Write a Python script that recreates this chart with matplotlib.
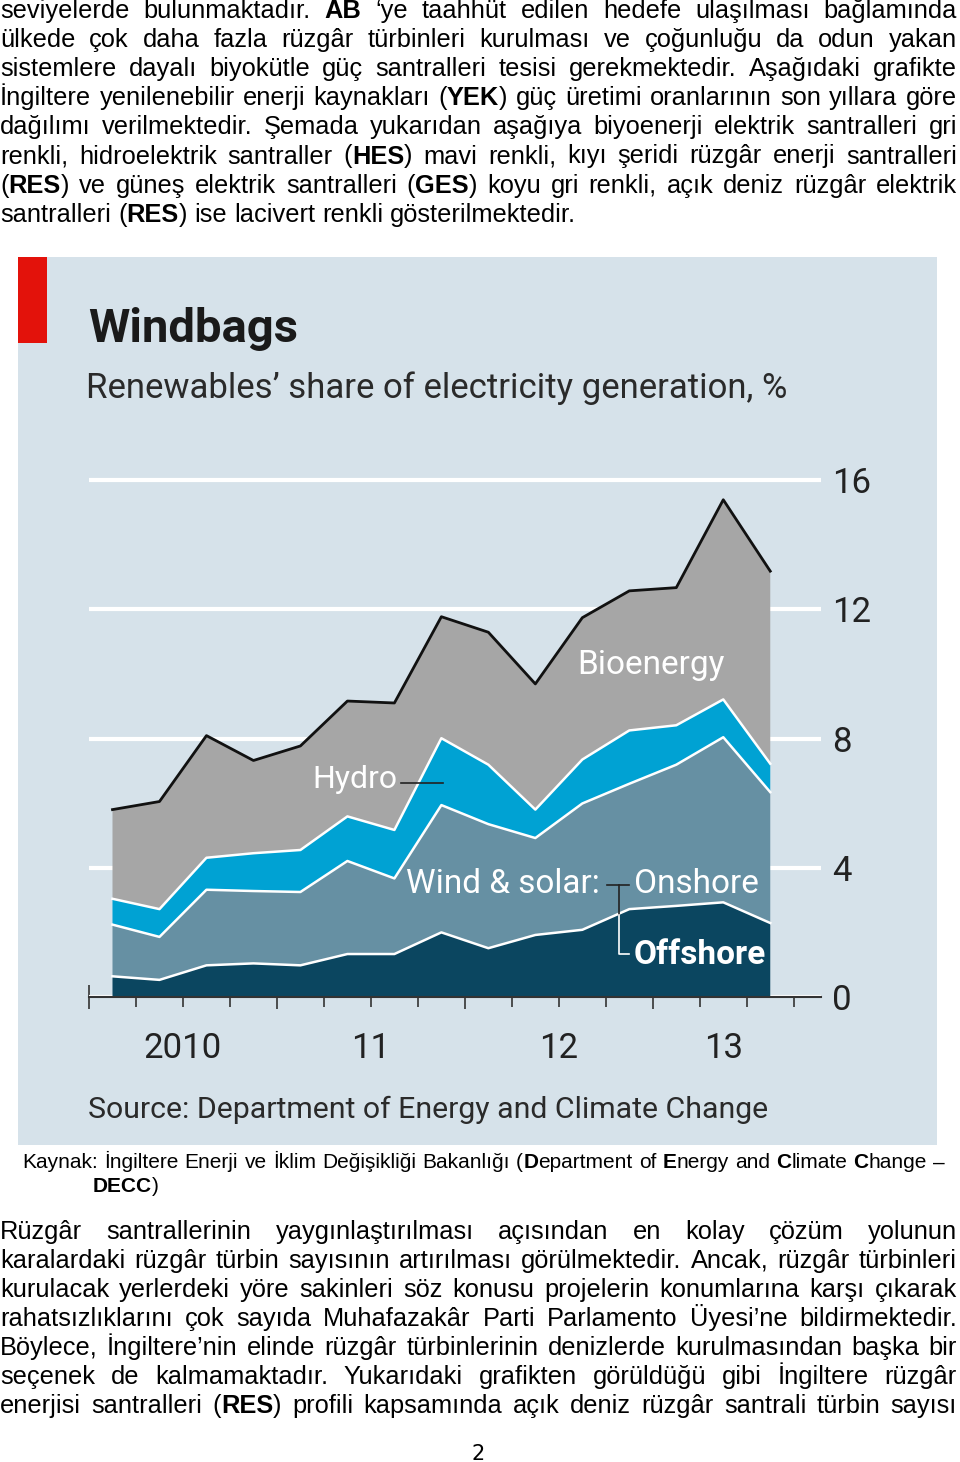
import numpy as np
import matplotlib
matplotlib.use('Agg')
import matplotlib.pyplot as plt
from matplotlib.patches import Rectangle

W, H = 960, 1462

# Datos: participación de renovables (%), trimestral 2010 T1 - 2013 T3
trimestres = np.arange(15)
eolica_marina = [0.64, 0.53, 0.98, 1.04, 0.98, 1.33, 1.33, 2.00, 1.51, 1.92, 2.08, 2.72, 2.82, 2.93, 2.29]
eolica_terrestre = [1.60, 1.33, 2.34, 2.24, 2.27, 2.88, 2.34, 3.94, 3.84, 3.00, 3.91, 3.88, 4.37, 5.11, 4.05]
hidro = [0.80, 0.86, 0.99, 1.17, 1.30, 1.38, 1.50, 2.07, 1.84, 0.88, 1.36, 1.65, 1.22, 1.17, 0.88]
bioenergia = [2.76, 3.33, 3.78, 2.87, 3.22, 3.57, 3.93, 3.76, 4.10, 3.89, 4.39, 4.32, 4.26, 6.18, 5.96]

etiquetas_anio = ['2010', '11', '12', '13']
pos_etiquetas = [1.5, 5.5, 9.5, 13]
yticks = [0, 4, 8, 12, 16]

colores = ['#0b4660', '#6690a3', '#00a2d3', '#a6a6a6']
fondo = '#d6e2ea'
fuente_graf = 'Roboto'

texto_arriba = [
    "seviyelerde bulunmaktadır. *AB* ‘ye taahhüt edilen hedefe ulaşılması bağlamında",
    "ülkede çok daha fazla rüzgâr türbinleri kurulması ve çoğunluğu da odun yakan",
    "sistemlere dayalı biyokütle güç santralleri tesisi gerekmektedir. Aşağıdaki grafikte",
    "İngiltere yenilenebilir enerji kaynakları (*YEK*) güç üretimi oranlarının son yıllara göre",
    "dağılımı verilmektedir. Şemada yukarıdan aşağıya biyoenerji elektrik santralleri gri",
    "renkli, hidroelektrik santraller (*HES*) mavi renkli, kıyı şeridi rüzgâr enerji santralleri",
    "(*RES*) ve güneş elektrik santralleri (*GES*) koyu gri renkli, açık deniz rüzgâr elektrik",
    "santralleri (*RES*) ise lacivert renkli gösterilmektedir.",
]
texto_abajo = [
    "Rüzgâr santrallerinin yaygınlaştırılması açısından en kolay çözüm yolunun",
    "karalardaki rüzgâr türbin sayısının artırılması görülmektedir. Ancak, rüzgâr türbinleri",
    "kurulacak yerlerdeki yöre sakinleri söz konusu projelerin konumlarına karşı çıkarak",
    "rahatsızlıklarını çok sayıda Muhafazakâr Parti Parlamento Üyesi’ne bildirmektedir.",
    "Böylece, İngiltere’nin elinde rüzgâr türbinlerinin denizlerde kurulmasından başka bir",
    "seçenek de kalmamaktadır. Yukarıdaki grafikten görüldüğü gibi İngiltere rüzgâr",
    "enerjisi santralleri (*RES*) profili kapsamında açık deniz rüzgâr santrali türbin sayısı",
]
kaynak = [
    "Kaynak: İngiltere Enerji ve İklim Değişikliği Bakanlığı (*D*epartment of *E*nergy and *C*limate *C*hange –",
    "*DECC*)",
]

fig = plt.figure(figsize=(W / 100, H / 100), dpi=100)
fig.patch.set_facecolor('white')


def px(x, y):
    return x / W, 1 - y / H


def escribir(y, linea, x0, x1, tam, justificar=True, fam='Liberation Sans'):
    r = fig.canvas.get_renderer()
    palabras = []
    for palabra in linea.split():
        trozos = []
        for i, s in enumerate(palabra.split('*')):
            if s:
                t = fig.text(0, 0, s, fontsize=tam, family=fam, va='baseline', ha='left',
                             fontweight='bold' if i % 2 else 'normal')
                trozos.append((t, t.get_window_extent(r).width))
        palabras.append(trozos)
    anchos = [sum(w for _, w in p) for p in palabras]
    if justificar and len(palabras) > 1:
        hueco = (x1 - x0 - sum(anchos)) / (len(palabras) - 1)
    else:
        hueco = tam * 0.278 * 100 / 72
    x = x0
    for p, a in zip(palabras, anchos):
        xx = x
        for t, w in p:
            t.set_position(px(xx, y))
            xx += w
        x += a + hueco


# Texto del documento
for i, l in enumerate(texto_arriba):
    escribir(18 + i * 29.1, l, 0, 957, 18.3, justificar=(i < len(texto_arriba) - 1))
for i, l in enumerate(texto_abajo):
    escribir(1238.7 + i * 29.1, l, 0, 957, 18.3)
escribir(1168.3, kaynak[0], 22, 945, 15)
escribir(1191.7, kaynak[1], 93, 945, 15, justificar=False)
fig.text(*px(478, 1460), '2', fontsize=15, family='Liberation Sans Narrow', ha='center', va='baseline')

# Panel del gráfico
fig.patches.append(Rectangle(px(18, 1145), (937 - 18) / W, (1145 - 257) / H, transform=fig.transFigure,
                             facecolor=fondo, edgecolor='none', zorder=-2))
fig.patches.append(Rectangle(px(18, 343), (47 - 18) / W, (343 - 257) / H, transform=fig.transFigure,
                             facecolor='#e3120b', edgecolor='none', zorder=-1))
fig.text(*px(88, 342), 'Windbags', fontsize=34, fontweight='bold', family=fuente_graf, color='#1a1a1a',
         va='baseline')
fig.text(*px(86, 398), 'Renewables’ share of electricity generation, %', fontsize=25, family=fuente_graf,
         color='#2a2a2a', va='baseline')
fig.text(*px(88, 1118), 'Source: Department of Energy and Climate Change', fontsize=21.8, family=fuente_graf,
         color='#2a2a2a', va='baseline')

ax = fig.add_axes([89 / W, (H - 997) / H, (821 - 89) / W, 16.6 * 32.31 / H])
ax.set_zorder(2)
ax.patch.set_alpha(0)
ax.set_xlim(-0.5, 15.08)
ax.set_ylim(0, 16.6)

ax.stackplot(trimestres, eolica_marina, eolica_terrestre, hidro, bioenergia, colors=colores, lw=0, zorder=2)
capas = np.cumsum([eolica_marina, eolica_terrestre, hidro, bioenergia], axis=0)
for c in capas[:3]:
    ax.plot(trimestres, c, color='white', lw=1.8, zorder=3)
ax.plot(trimestres, capas[3], color='#111111', lw=2, zorder=3)

ax.set_yticks(yticks)
ax.grid(axis='y', color='white', lw=3, zorder=1)
ax.set_axisbelow(True)
ax.yaxis.tick_right()
ax.tick_params(axis='y', length=0, pad=8, labelsize=25, labelcolor='#222222')
for t in ax.get_yticklabels():
    t.set_family(fuente_graf)

ax.set_xticks([-0.5, 3.5, 7.5, 11.5])
ax.set_xticks(np.arange(-0.5, 15, 1), minor=True)
ax.tick_params(axis='x', which='major', direction='inout', length=17, width=1.2, color='#333333', labelbottom=False)
ax.tick_params(axis='x', which='minor', direction='out', length=7.5, width=1.2, color='#333333')
for s in ['top', 'right', 'left']:
    ax.spines[s].set_visible(False)
ax.spines['bottom'].set_color('#333333')
ax.spines['bottom'].set_linewidth(1.5)
for xp, et in zip(pos_etiquetas, etiquetas_anio):
    ax.text(xp, -0.096, et, transform=ax.get_xaxis_transform(), ha='center', va='center', fontsize=25,
            family=fuente_graf, color='#222222')

# Etiquetas de las series
ax.text(6.06, 6.72, 'Hydro', color='white', fontsize=23, family=fuente_graf, ha='right', va='center')
ax.plot([6.15, 7.04], [6.62, 6.62], color='#222222', lw=1.2, zorder=4)
ax.text(11.45, 10.28, 'Bioenergy', color='white', fontsize=24, family=fuente_graf, ha='center', va='center')
ax.text(10.38, 3.5, 'Wind & solar:', color='white', fontsize=24, family=fuente_graf, ha='right', va='center')
ax.text(11.09, 3.5, 'Onshore', color='white', fontsize=24, family=fuente_graf, ha='left', va='center')
ax.text(11.09, 1.3, 'Offshore', color='white', fontsize=24, fontweight='bold', family=fuente_graf,
        ha='left', va='center')
# corchete que une Onshore y Offshore
ax.plot([10.52, 11.0], [3.47, 3.47], color='#222222', lw=1.2, zorder=4)
ax.plot([10.77, 10.77], [3.47, 2.55], color='#222222', lw=1.2, zorder=4)
ax.plot([10.77, 10.77, 11.0], [2.55, 1.33, 1.33], color='white', lw=1.2, zorder=4)

fig.savefig('out.png', dpi=100)
